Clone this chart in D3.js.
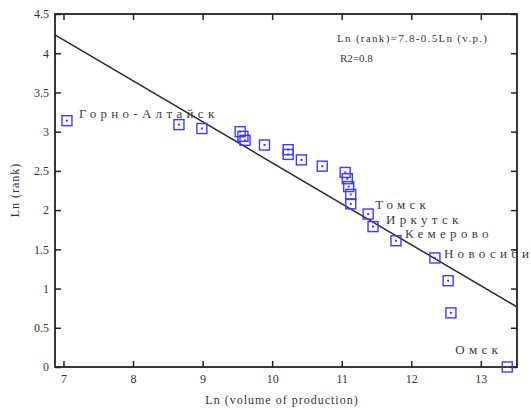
<!DOCTYPE html>
<html>
<head>
<meta charset="utf-8">
<script src="https://cdn.jsdelivr.net/npm/d3@7"></script>
<style>
  html, body { margin: 0; padding: 0; background: #fff; }
  svg { display: block; }
</style>
</head>
<body>
<svg id="chart" width="531" height="410"></svg>
<script>
// ---- data ----
const lnVolume = [7.05, 8.66, 8.99, 9.54, 9.58, 9.61, 9.89, 10.23, 10.23, 10.42, 10.72, 11.05, 11.08, 11.10, 11.13, 11.13, 11.38, 11.45, 11.78, 12.34, 12.53, 12.57, 13.38];
const lnRank   = [3.14, 3.09, 3.04, 3.00, 2.94, 2.89, 2.83, 2.77, 2.71, 2.64, 2.56, 2.48, 2.40, 2.30, 2.20, 2.08, 1.95, 1.79, 1.61, 1.39, 1.10, 0.69, 0];
const cityIndex = [0, 16, 17, 18, 19, 22];
const cityNames = ["Горно-Алтайск", "Томск", "Иркутск", "Кемерово", "Новосибирск", "Омск"];
const fitX = [6.878, 13.52];
const fitY = [4.235, 0.765];
const xTicks = [7, 8, 9, 10, 11, 12, 13];
const yTicks = [0, 0.5, 1, 1.5, 2, 2.5, 3, 3.5, 4, 4.5];
const xDomain = [6.878, 13.52];
const yDomain = [0, 4.5];
const equationText = "Ln (rank)=7.8-0.5Ln (v.p.)";
const r2Text = "R2=0.8";
const xTitle = "Ln (volume of production)";
const yTitle = "Ln (rank)";

// ---- layout ----
const L = 55, R = 517, T = 14, B = 367;
const svg = d3.select("#chart");
const x = d3.scaleLinear().domain(xDomain).range([L, R]);
const y = d3.scaleLinear().domain(yDomain).range([B, T]);
const textColor = "#333";
const serif = "'Liberation Serif', 'Times New Roman', serif";
const blue = "#3b3bff";

// regression line
svg.append("line")
  .attr("x1", x(fitX[0])).attr("y1", y(fitY[0]))
  .attr("x2", x(fitX[1])).attr("y2", y(fitY[1]))
  .attr("stroke", "#2a2a2a").attr("stroke-width", 1.5);

// axes
const fmt = d => String(d);
const axB = d3.axisBottom(x).tickValues(xTicks).tickFormat(fmt).tickSizeInner(-6).tickSizeOuter(0).tickPadding(7);
const axT = d3.axisTop(x).tickValues(xTicks).tickFormat("").tickSizeInner(-6).tickSizeOuter(0);
const axLft = d3.axisLeft(y).tickValues(yTicks).tickFormat(fmt).tickSizeInner(-6).tickSizeOuter(0).tickPadding(6);
const axRgt = d3.axisRight(y).tickValues(yTicks).tickFormat("").tickSizeInner(-6).tickSizeOuter(0);

function styleAxis(g) {
  g.select(".domain").remove();
  g.selectAll(".tick line").attr("stroke", "#222").attr("stroke-width", 1.5);
  g.selectAll(".tick text").attr("fill", textColor).attr("font-family", serif).attr("font-size", 12);
}
svg.append("g").attr("transform", `translate(0,${B})`).call(axB).call(styleAxis);
svg.append("g").attr("transform", `translate(0,${T})`).call(axT).call(styleAxis);
svg.append("g").attr("transform", `translate(${L},0)`).call(axLft).call(styleAxis);
svg.append("g").attr("transform", `translate(${R},0)`).call(axRgt).call(styleAxis);

// frame
svg.append("rect").attr("x", L).attr("y", T).attr("width", R - L).attr("height", B - T)
  .attr("fill", "none").attr("stroke", "#222").attr("stroke-width", 1.8);

// points
const pts = lnVolume.map((v, i) => ({ x: v, y: lnRank[i] }));
const s = 10;
const g = svg.append("g");
g.selectAll("rect.pt").data(pts).join("rect").attr("class", "pt")
  .attr("x", d => x(d.x) - s / 2).attr("y", d => y(d.y) - s / 2)
  .attr("width", s).attr("height", s)
  .attr("fill", "none").attr("stroke", blue).attr("stroke-width", 1.4);
g.selectAll("rect.dot").data(pts).join("rect").attr("class", "dot")
  .attr("x", d => x(d.x) - 1).attr("y", d => y(d.y) - 1)
  .attr("width", 2).attr("height", 2).attr("fill", blue);

// city labels
const labelOffsets = [[12, -3], [7, -5], [13, -3], [9, -3], [9, 0], [-52, -13]];
cityIndex.forEach((idx, k) => {
  svg.append("text")
    .attr("x", x(lnVolume[idx]) + labelOffsets[k][0])
    .attr("y", y(lnRank[idx]) + labelOffsets[k][1])
    .attr("font-family", serif).attr("font-size", 13)
    .attr("letter-spacing", "4.3px")
    .attr("fill", "#3a3a3a")
    .text(cityNames[k]);
});

// equation
svg.append("text").attr("x", 337).attr("y", 42)
  .attr("font-family", serif).attr("font-size", 11).attr("fill", textColor)
  .attr("textLength", 150).attr("lengthAdjust", "spacing")
  .text(equationText);
svg.append("text").attr("x", 340).attr("y", 62)
  .attr("font-family", serif).attr("font-size", 11).attr("fill", textColor)
  .text(r2Text);

// axis titles
svg.append("text").attr("x", 282).attr("y", 404).attr("text-anchor", "middle")
  .attr("font-family", serif).attr("font-size", 12).attr("fill", textColor)
  .attr("letter-spacing", "1px")
  .text(xTitle);
svg.append("text").attr("transform", "translate(19,190) rotate(-90)").attr("text-anchor", "middle")
  .attr("font-family", serif).attr("font-size", 12).attr("fill", textColor)
  .attr("letter-spacing", "1px")
  .text(yTitle);
</script>
</body>
</html>
